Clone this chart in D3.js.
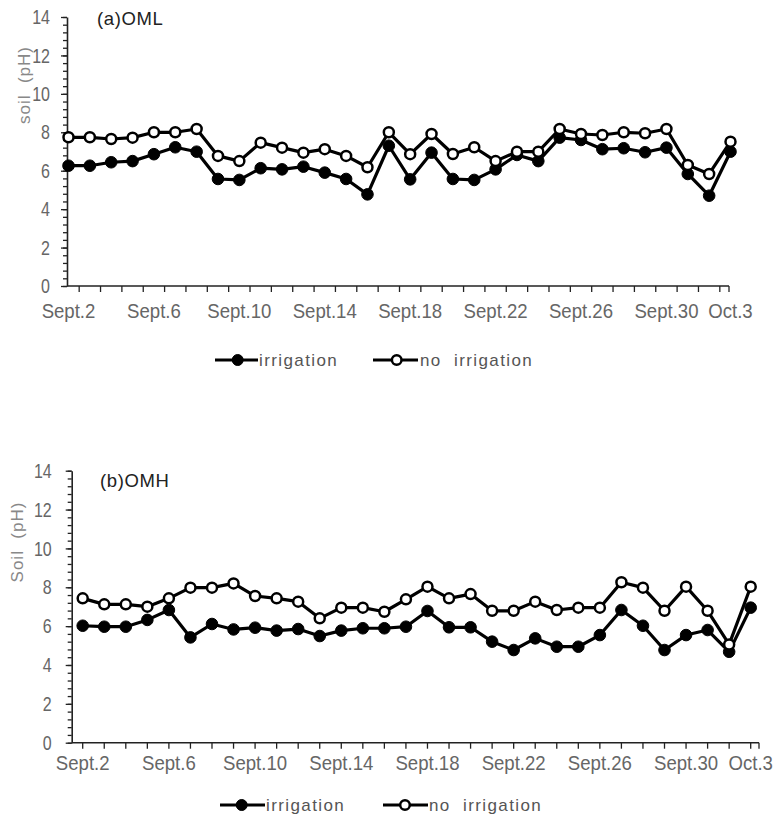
<!DOCTYPE html>
<html><head><meta charset="utf-8">
<script src="https://cdn.jsdelivr.net/npm/d3@7"></script>
<style>
body{margin:0;background:#fff;}
svg text{font-family:"Liberation Sans",Arial,sans-serif;}
</style></head>
<body><svg id="c" width="773" height="818"></svg>
<script>
const categories = ["Sept.2","Sept.3","Sept.4","Sept.5","Sept.6","Sept.7","Sept.8","Sept.9","Sept.10","Sept.11","Sept.12","Sept.13","Sept.14","Sept.15","Sept.16","Sept.17","Sept.18","Sept.19","Sept.20","Sept.21","Sept.22","Sept.23","Sept.24","Sept.25","Sept.26","Sept.27","Sept.28","Sept.29","Sept.30","Oct.1","Oct.2","Oct.3"];
const shownLabels = ["Sept.2","Sept.6","Sept.10","Sept.14","Sept.18","Sept.22","Sept.26","Sept.30","Oct.3"];
const yTicks = [0,2,4,6,8,10,12,14];
const seriesNames = ["irrigation","no  irrigation"];

const omlIrrigation = [6.26,6.26,6.44,6.5,6.86,7.22,6.99,5.57,5.52,6.13,6.07,6.21,5.9,5.57,4.77,7.3,5.55,6.94,5.57,5.52,6.07,6.82,6.5,7.72,7.6,7.12,7.17,6.96,7.2,5.83,4.7,6.99];
const omlNoIrrigation = [7.74,7.74,7.65,7.72,8.0,8.0,8.17,6.77,6.5,7.46,7.2,6.94,7.12,6.77,6.18,8.0,6.86,7.91,6.87,7.22,6.5,6.99,6.99,8.17,7.91,7.86,8.0,7.95,8.17,6.3,5.83,7.51];
const omhIrrigation = [6.02,5.97,5.97,6.32,6.83,5.42,6.11,5.83,5.92,5.77,5.85,5.49,5.77,5.89,5.89,5.97,6.78,5.94,5.94,5.2,4.77,5.37,4.94,4.94,5.54,6.83,6.02,4.77,5.54,5.8,4.68,6.95];
const omhNoIrrigation = [7.43,7.12,7.12,7.0,7.43,7.98,7.98,8.2,7.55,7.43,7.26,6.4,6.95,6.95,6.74,7.38,8.03,7.43,7.65,6.79,6.79,7.26,6.83,6.95,6.95,8.26,7.98,6.79,8.03,6.79,5.06,8.03];

const svg = d3.select("#c");
const grey = "#666";

function label(g, x, y, txt, size, sx, anchor, fill, ls){
  return g.append("text").attr("transform",`translate(${x},${y}) scale(${sx},1)`)
    .attr("text-anchor",anchor).attr("dominant-baseline","central")
    .attr("fill",fill).attr("font-size",size).style("white-space","pre")
    .style("letter-spacing",(ls||0)+"px").text(txt);
}

function panel(cfg){
  const g = svg.append("g");
  const n = categories.length;
  const x = d3.scaleLinear().domain([0,n-1]).range([cfg.x0,cfg.x1]);
  const y = d3.scaleLinear().domain([0,14]).range([cfg.yb,cfg.yt]);
  const minor = d3.range(0,14.001,0.4);
  g.append("g").attr("transform",`translate(${cfg.ax},0)`)
    .call(d3.axisLeft(y).tickValues(minor).tickSize(4).tickFormat(""))
    .call(s=>s.select(".domain").remove())
    .call(s=>s.selectAll("line").attr("stroke","#222").attr("stroke-width",1.3));
  g.append("g").attr("transform",`translate(${cfg.ax},0)`)
    .call(d3.axisLeft(y).tickValues(yTicks).tickSize(6).tickFormat("").tickSizeOuter(0))
    .call(s=>{s.select(".domain").attr("stroke","#222").attr("stroke-width",1.6);
      s.selectAll("line").attr("stroke","#222").attr("stroke-width",1.3);});
  yTicks.forEach(v=>label(g, cfg.yLabR, y(v)+0.5, String(v), 20, 0.8, "end", grey));
  // x axis
  const tickPos = cfg.tickIdx.map(v=>x(v)).concat([cfg.axEnd]);
  g.append("line").attr("x1",cfg.ax).attr("x2",cfg.axEnd).attr("y1",cfg.yb).attr("y2",cfg.yb).attr("stroke","#222").attr("stroke-width",1.6);
  g.selectAll(".xt").data(tickPos).join("line").attr("x1",d=>d).attr("x2",d=>d).attr("y1",cfg.yb).attr("y2",cfg.yb+6).attr("stroke","#222").attr("stroke-width",1.3);
  shownLabels.forEach(d=>label(g, x(categories.indexOf(d)), cfg.labelY, d, 20, 0.93, "middle", grey));
  // y title
  g.append("text").attr("transform",`translate(${cfg.titleX},${cfg.titleY}) rotate(-90)`)
    .attr("text-anchor","middle").attr("dominant-baseline","central")
    .attr("fill","#888").attr("font-size",17).style("white-space","pre").style("letter-spacing","1px").text(cfg.yTitle);
  label(g, cfg.headX, cfg.headY, cfg.head, 18.5, 1, "start", "#222", 0.6);
  // lines
  const line = d3.line().x((d,i)=>x(i)).y(d=>y(d));
  [cfg.s1,cfg.s2].forEach(data=>{
    g.append("path").datum(data).attr("d",line).attr("fill","none").attr("stroke","#000").attr("stroke-width",3.2).attr("stroke-linejoin","round");
  });
  [[cfg.s1,true],[cfg.s2,false]].forEach(([data,filled])=>{
    g.selectAll(null).data(data).join("circle").attr("cx",(d,i)=>x(i)).attr("cy",d=>y(d))
      .attr("r",filled?5.8:5).attr("fill",filled?"#000":"#fff").attr("stroke","#000").attr("stroke-width",filled?1:2.5);
  });
  // legend
  const items = [{name:seriesNames[0],filled:true,x1:cfg.lg[0],x2:cfg.lg[1],cx:cfg.lg[2],tx:cfg.lg[3]},
                 {name:seriesNames[1],filled:false,x1:cfg.lg[4],x2:cfg.lg[5],cx:cfg.lg[6],tx:cfg.lg[7]}];
  items.forEach(it=>{
    g.append("line").attr("x1",it.x1).attr("x2",it.x2).attr("y1",cfg.lgY).attr("y2",cfg.lgY).attr("stroke","#000").attr("stroke-width",3.2);
    g.append("circle").attr("cx",it.cx).attr("cy",cfg.lgY).attr("r",it.filled?5.5:4.8).attr("fill",it.filled?"#000":"#fff").attr("stroke","#000").attr("stroke-width",it.filled?1:2.5);
    label(g, it.tx, cfg.lgY, it.name, 17, 1, "start", "#555", 1.4);
  });
}

panel({x0:68.5,x1:730.5,yb:286,yt:17,ax:67,axEnd:729,yLabR:50,labelY:311.5,
  tickIdx:d3.range(0.5,30.6,1),titleX:24,titleY:85,yTitle:"soil  (pH)",head:"(a)OML",headX:97,headY:18,
  s1:omlIrrigation,s2:omlNoIrrigation,lg:[215,258,237.7,259,373,418,396.7,420],lgY:360});
panel({x0:82.7,x1:750.7,yb:742.7,yt:470.7,ax:71.7,axEnd:759,yLabR:51.7,labelY:763.5,
  tickIdx:d3.range(0,32,1),titleX:17,titleY:542,yTitle:"Soil  (pH)",head:"(b)OMH",headX:100,headY:480,
  s1:omhIrrigation,s2:omhNoIrrigation,lg:[220,265,241.7,266,383,428,405,429],lgY:805});
</script></body></html>
